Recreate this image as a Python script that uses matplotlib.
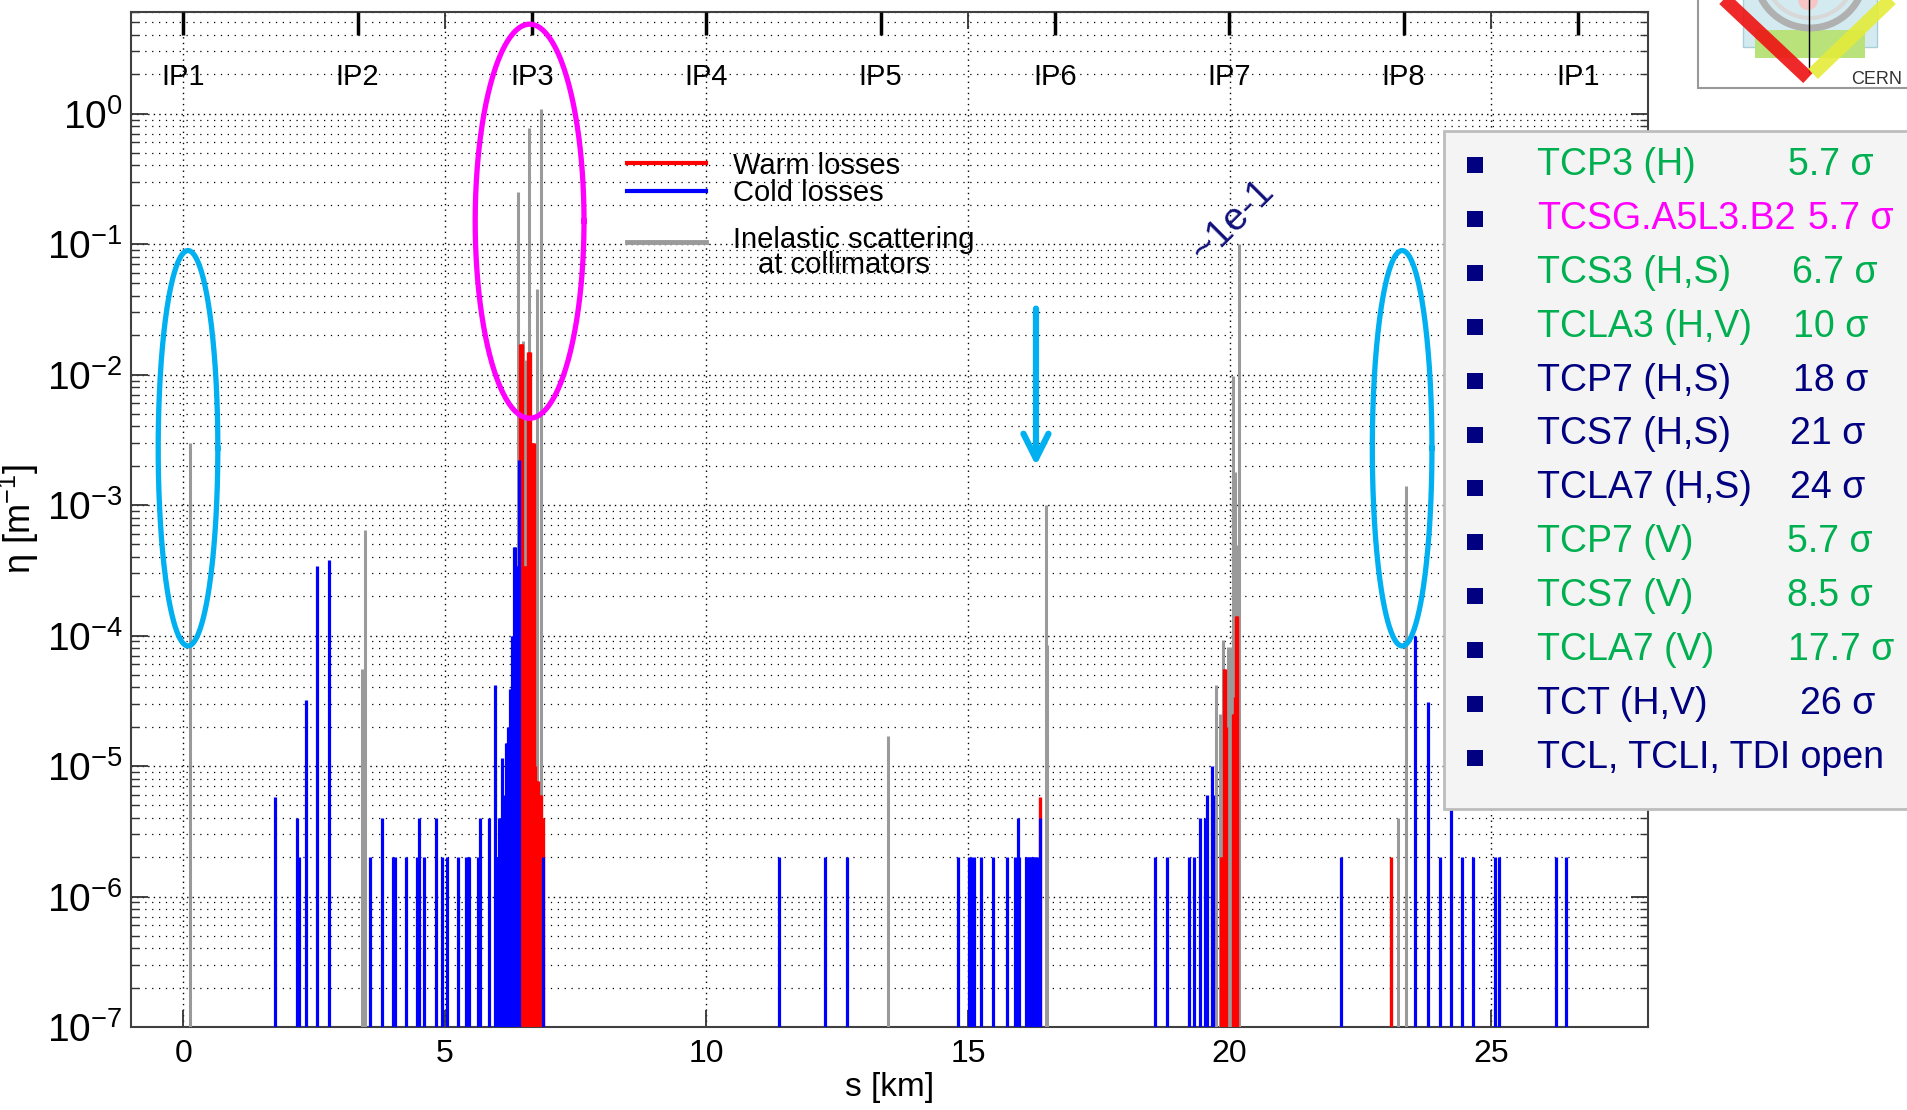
import numpy as np
import matplotlib
matplotlib.use("Agg")
import matplotlib.pyplot as plt
from matplotlib.patches import Rectangle, Circle
from matplotlib.ticker import LogLocator, NullFormatter

plt.rcParams["font.family"] = ["Liberation Sans", "DejaVu Sans"]
plt.rcParams["mathtext.fontset"] = "custom"
plt.rcParams["mathtext.rm"] = "Liberation Sans"
plt.rcParams["mathtext.it"] = "Liberation Sans:italic"
plt.rcParams["mathtext.default"] = "regular"

# -- cold losses (blue), s [km] / eta [1/m]
cold_s = [1.75, 2.17, 2.21, 2.35, 2.56, 2.78, 3.56, 3.80, 4.01, 4.04, 4.25,
          4.46, 4.50, 4.61, 4.83, 4.95, 5.05, 5.26, 5.41, 5.44, 5.47, 5.64,
          5.68, 5.85, 5.95, 5.98, 6.00, 6.02, 6.04, 6.06, 6.08, 6.10, 6.12,
          6.14, 6.16, 6.18, 6.20, 6.22, 6.24, 6.26, 6.28, 6.30, 6.32, 6.34,
          6.36, 6.38, 6.42, 6.87,
          11.39, 12.26, 12.68, 14.81, 15.02, 15.06, 15.11, 15.24, 15.47,
          15.74, 15.90, 15.95, 15.98, 16.10, 16.13, 16.16, 16.19, 16.22,
          16.25, 16.28, 16.31, 16.34, 16.38,
          18.57, 18.80, 19.22, 19.33, 19.43, 19.54, 19.57, 19.66, 19.69,
          22.14, 23.55, 23.80, 24.02, 24.23, 24.44, 24.65, 25.07, 25.15,
          26.25, 26.44]
cold_eta = [5.8e-6, 4e-6, 2e-6, 3.2e-5, 3.4e-4, 3.8e-4, 2e-6, 4e-6, 2e-6,
            2e-6, 2e-6, 2e-6, 4e-6, 2e-6, 4e-6, 2e-6, 2e-6, 2e-6, 2e-6, 2e-6,
            2e-6, 2e-6, 4e-6, 4e-6, 4.2e-5, 2e-6, 2e-6, 2e-6, 4e-6, 4e-6,
            4e-6, 1.15e-5, 6e-6, 4e-6, 1.5e-5, 1.5e-5, 2e-5, 2e-5, 3.9e-5,
            3.9e-5, 1.0e-4, 1.0e-4, 4.8e-4, 4.8e-4, 3.4e-4, 3.4e-4, 2.2e-3,
            2e-6,
            2e-6, 2e-6, 2e-6, 2e-6, 2e-6, 2e-6, 2e-6, 2e-6, 2e-6,
            2e-6, 2e-6, 4e-6, 2e-6, 2e-6, 2e-6, 2e-6, 2e-6, 2e-6,
            2e-6, 2e-6, 2e-6, 2e-6, 4e-6,
            2e-6, 2e-6, 2e-6, 2e-6, 4e-6, 4e-6, 6e-6, 1e-5, 6e-6,
            2e-6, 1.0e-4, 3.1e-5, 2e-6, 1e-5, 2e-6, 2e-6, 2e-6, 2e-6,
            2e-6, 2e-6]

# -- warm losses (red)
warm_s = [6.44, 6.46, 6.48, 6.51, 6.53, 6.55, 6.58, 6.61, 6.63, 6.65, 6.67,
          6.69, 6.71, 6.73, 6.75, 6.77, 6.79, 6.81, 6.83, 6.86, 6.88,
          16.38, 19.84, 19.86, 19.90, 19.92, 19.94, 20.06, 20.08, 20.10,
          20.12, 20.14, 23.08]
warm_eta = [1.7e-2, 1.7e-2, 1.7e-2, 3.4e-4, 3.4e-4, 3.4e-4, 1.5e-2, 1.5e-2,
            1.5e-2, 3e-3, 3e-3, 3e-3, 3e-3, 1e-5, 7.7e-6, 7.7e-6, 7.7e-6,
            6e-6, 6e-6, 4e-6, 4e-6,
            5.8e-6, 2e-6, 2e-6, 5.5e-5, 5.5e-5, 2e-5, 2.5e-5, 2.5e-5,
            3.4e-5, 1.4e-4, 1.4e-4, 2e-6]

# -- inelastic scattering at collimators (grey)
coll_s = [0.12, 3.41, 3.47, 6.39, 6.49, 6.55, 6.60, 6.77, 6.84, 13.47, 16.50,
          16.52, 19.75, 19.81, 19.88, 19.97, 20.02, 20.07, 20.11, 20.13,
          20.18, 23.22, 23.38]
coll_eta = [3e-3, 5.5e-5, 6.4e-4, 0.25, 1.8e-2, 1.3e-2, 0.78, 4.5e-2, 1.08,
            1.7e-5, 1e-3, 8.5e-5, 4.2e-5, 2.5e-5, 9.3e-5, 8.2e-5, 8.2e-5,
            9.8e-3, 1.8e-3, 4.9e-4, 0.1, 4e-6, 1.4e-3]

# -- interaction points
ip_s = [0.0, 3.332, 6.664, 9.997, 13.329, 16.661, 19.993, 23.326, 26.658]
ip_names = ["IP1", "IP2", "IP3", "IP4", "IP5", "IP6", "IP7", "IP8", "IP1"]

# -- collimator settings box
coll_names = ["TCP3 (H)", "TCSG.A5L3.B2", "TCS3 (H,S)", "TCLA3 (H,V)",
              "TCP7 (H,S)", "TCS7 (H,S)", "TCLA7 (H,S)", "TCP7 (V)",
              "TCS7 (V)", "TCLA7 (V)", "TCT (H,V)", "TCL, TCLI, TDI open"]
coll_sigma = ["5.7 σ", "5.7 σ", "6.7 σ", "10 σ", "18 σ", "21 σ", "24 σ",
              "5.7 σ", "8.5 σ", "17.7 σ", "26 σ", ""]
green, navy, magenta = "#00b050", "#000080", "#ff00ff"
coll_cols = [green, magenta, green, green, navy, navy, navy, green, green,
             green, navy, navy]
val_x = [1788, 1808, 1792, 1793, 1793, 1790, 1790, 1787, 1787, 1788, 1800, 0]

# -- highlight ellipses (centre s, half width, log centre, log half height)
ellipses = [(0.09, 0.57, -2.565, 1.515, "#00b0f0"),
            (23.30, 0.57, -2.565, 1.515, "#00b0f0"),
            (6.62, 1.04, -0.825, 1.51, "#ff00ff")]

W, H = 1907, 1110
fig = plt.figure(figsize=(W / 100.0, H / 100.0), dpi=100)
ax = fig.add_axes([131.0 / W, 1 - 1027.0 / H, 1517.0 / W, 1015.0 / H])
ax.set_yscale("log")
ax.set_xlim(-1, 28)
ax.set_ylim(1e-7, 6)

ax.vlines(coll_s, 1e-7, coll_eta, color="#9a9a9a", lw=2.2, zorder=3)
ax.vlines(warm_s, 1e-7, warm_eta, color="#ff0000", lw=2.4, zorder=4)
ax.vlines(cold_s, 1e-7, cold_eta, color="#0000ff", lw=2.3, zorder=5)

# -- axes cosmetics
ax.set_xticks([0, 5, 10, 15, 20, 25])
ax.set_yticks([10.0 ** k for k in range(-7, 1)])
ax.yaxis.set_minor_locator(LogLocator(base=10, subs=np.arange(2, 10),
                                      numticks=30))
ax.yaxis.set_minor_formatter(NullFormatter())
ax.tick_params(which="both", direction="in", top=True, right=True,
               color="#333333")
ax.tick_params(which="major", length=12, width=1.3)
ax.tick_params(which="minor", length=6, width=1.0)
ax.tick_params(axis="x", labelsize=23, pad=9)
ax.tick_params(axis="y", labelsize=28, pad=6)
ax.grid(True, which="major", ls=(0, (1, 3)), color="k", lw=1.0)
ax.grid(True, which="minor", axis="y", ls=(0, (1, 4.5)), color="k", lw=0.9)
for sp in ax.spines.values():
    sp.set_color("#404040")
    sp.set_linewidth(1.5)
ax.set_xlabel("s [km]", fontsize=24, labelpad=2)
ax.set_ylabel("η [m$^{-1}$]", fontsize=26, labelpad=4)

# -- IP markers
ax.vlines(ip_s, 0.977, 1.0, transform=ax.get_xaxis_transform(),
          color="k", lw=2.5, zorder=6, clip_on=False)
for s, name in zip(ip_s, ip_names):
    ax.text(s, 1.9, name, ha="center", va="center", fontsize=21)

# -- legend
ax.plot([0.327, 0.379], [0.851, 0.851], transform=ax.transAxes,
        color="#ff0000", lw=3)
ax.plot([0.327, 0.379], [0.824, 0.824], transform=ax.transAxes,
        color="#0000ff", lw=3)
ax.plot([0.327, 0.379], [0.773, 0.773], transform=ax.transAxes,
        color="#9a9a9a", lw=3.5)
ax.text(0.397, 0.848, "Warm losses", transform=ax.transAxes, fontsize=21,
        va="center")
ax.text(0.397, 0.822, "Cold losses", transform=ax.transAxes, fontsize=21,
        va="center")
ax.text(0.397, 0.775, "Inelastic scattering", transform=ax.transAxes,
        fontsize=21, va="center")
ax.text(0.413, 0.751, "at collimators", transform=ax.transAxes,
        fontsize=21, va="center")

# -- ellipses, arrow, annotation
t = np.linspace(0, 2 * np.pi, 300)
for cx, a, cy, b, col in ellipses:
    ax.plot(cx + a * np.cos(t), 10 ** (cy + b * np.sin(t)), color=col,
            lw=3.8, zorder=7)
ax.annotate("", xy=(16.30, 2.0e-3), xytext=(16.30, 3.2e-2),
            arrowprops=dict(arrowstyle="->", color="#00b0f0", lw=4.5,
                            mutation_scale=45, shrinkA=0, shrinkB=0),
            zorder=7)
ax.text(20.06, 0.15, "~1e-1", rotation=45, color="#10107a", fontsize=28,
        ha="center", va="center")

# -- overlay in pixel coordinates: settings box and logo
ov = fig.add_axes([0, 0, 1, 1], zorder=10)
ov.set_xlim(0, W)
ov.set_ylim(H, 0)
ov.axis("off")

ov.add_patch(Rectangle((1444, 131), 480, 678, fc="#f4f4f4", ec="#bdbdbd",
                       lw=2))
for i, (name, sig, col) in enumerate(zip(coll_names, coll_sigma, coll_cols)):
    y = 165 + i * 53.9
    ov.add_patch(Rectangle((1467, y - 8), 16, 16, fc=navy, ec="none"))
    ov.text(1537, y, name, color=col, fontsize=27, va="center", ha="left")
    if sig:
        ov.text(val_x[i], y, sig, color=col, fontsize=27, va="center",
                ha="left")

box = Rectangle((1698, -5), 230, 93, fc="white", ec="#999999", lw=1.5)
ov.add_patch(box)
ov.add_patch(Rectangle((1743, -5), 134, 52, fc="#d3ebf0", ec="#a8cfd8",
                       lw=1))
ov.add_patch(Rectangle((1755, 30), 110, 28, fc="#b9e27a", ec="none"))
ov.add_patch(Circle((1810, -27), 55, fill=False, ec="#b0b0b0", lw=5))
ov.add_patch(Circle((1810, -27), 45, fill=False, ec="#d8d8d8", lw=3))
ov.add_patch(Circle((1808, 0), 10, fc="#f6c6c6", ec="none"))
ov.plot([1809, 1809], [0, 72], color="k", lw=1)
ov.plot([1723, 1808], [-2, 78], color="#ee1111", lw=10, alpha=0.9,
        solid_capstyle="butt")
ov.plot([1892, 1813], [-2, 74], color="#e4ec3a", lw=10, alpha=0.9,
        solid_capstyle="butt")
ov.text(1877, 79, "CERN", ha="center", va="center", fontsize=13,
        color="#333333")

fig.savefig("out.png", dpi=100)
